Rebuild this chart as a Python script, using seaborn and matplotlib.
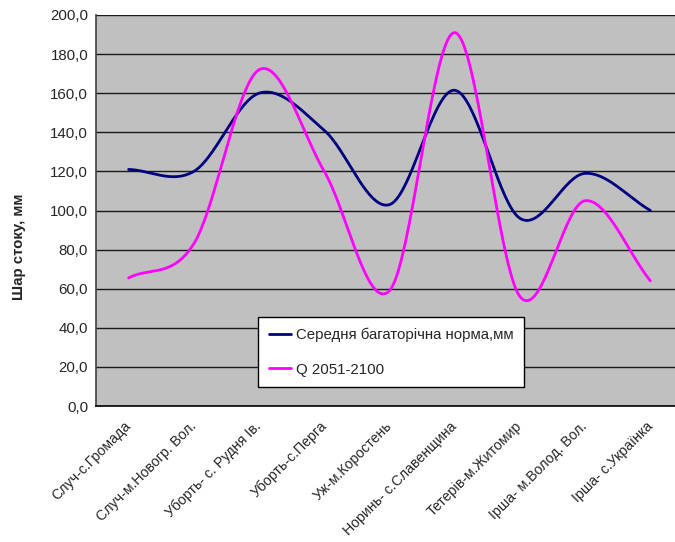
import numpy as np
import pandas as pd
import matplotlib
matplotlib.use("Agg")
import matplotlib.pyplot as plt
import matplotlib.transforms as mtransforms
import seaborn as sns
from matplotlib.lines import Line2D

categories = ['Случ-с.Громада', 'Случ-м.Новогр. Вол.', 'Уборть- с. Рудня Ів.',
              'Уборть-с.Перга', 'Уж-м.Коростень', 'Норинь- с.Славенщина',
              'Тетерів-м.Житомир', 'Ірша- м.Волод. Вол.', 'Ірша- с.Українка']
norm_values = [121, 120, 160, 141, 103, 161.5, 96, 119, 100]
q_values = [65.5, 83, 172, 120, 59, 191, 56, 105, 64]
series_names = ['Середня багаторічна норма,мм', 'Q 2051-2100']
y_ticks = [0, 20, 40, 60, 80, 100, 120, 140, 160, 180, 200]
y_tick_labels = ['0,0', '20,0', '40,0', '60,0', '80,0', '100,0', '120,0',
                 '140,0', '160,0', '180,0', '200,0']
y_label = 'Шар стоку, мм'
colors = ['#000080', '#FF00FF']


def smooth(values, n=40):
    """Excel-style smoothed line (Catmull-Rom Bezier through the points)."""
    p = np.asarray(values, dtype=float)
    x = np.arange(len(p), dtype=float)
    P = np.column_stack([x, p])
    ext = np.vstack([2 * P[0] - P[1], P, 2 * P[-1] - P[-2]])
    xs, ys = [], []
    t = np.linspace(0, 1, n)[:, None]
    for i in range(len(P) - 1):
        p0, p1, p2, p3 = ext[i], ext[i + 1], ext[i + 2], ext[i + 3]
        b0 = p1
        b1 = p1 + (p2 - p0) / 6
        b2 = p2 - (p3 - p1) / 6
        b3 = p2
        pts = ((1 - t) ** 3) * b0 + 3 * ((1 - t) ** 2) * t * b1 + 3 * (1 - t) * t ** 2 * b2 + t ** 3 * b3
        if i > 0:
            pts = pts[1:]
        xs.extend(pts[:, 0])
        ys.extend(pts[:, 1])
    return np.array(xs), np.array(ys)


frames = []
for name, vals in zip(series_names, [norm_values, q_values]):
    sx, sy = smooth(vals)
    frames.append(pd.DataFrame({'x': sx, 'y': sy, 'series': name}))
df = pd.concat(frames, ignore_index=True)

sns.set_style("white")
plt.rcParams['font.family'] = ['Liberation Sans', 'DejaVu Sans']
FS = 10.8
FS_X = 10.2

W, H = 675, 542
fig = plt.figure(figsize=(W / 100, H / 100), dpi=100)
left, right, top, bottom = 96, 683, 15, 406
ax = fig.add_axes([left / W, 1 - bottom / H, (right - left) / W, (bottom - top) / H])
ax.set_facecolor('#C0C0C0')

sns.lineplot(data=df, x='x', y='y', hue='series', palette=colors,
             estimator=None, sort=False, linewidth=2.0, ax=ax, legend=False)

ax.set_xlim(-0.5, len(categories) - 0.5)
ax.set_ylim(0, 200)
ax.set_yticks(y_ticks)
ax.set_yticklabels(y_tick_labels, fontsize=FS)
ax.yaxis.grid(True, color='#1a1a1a', linewidth=1.0)
ax.set_axisbelow(True)

ax.set_xticks(np.arange(len(categories)))
ax.set_xticklabels(categories, rotation=45, ha='right', va='center',
                   rotation_mode='anchor', fontsize=FS_X)
offset = mtransforms.ScaledTranslation(-6 / 100, 0, fig.dpi_scale_trans)
for lab in ax.get_xticklabels():
    lab.set_transform(lab.get_transform() + offset)
ax.set_xticks(np.arange(len(categories) + 1) - 0.5, minor=True)
ax.tick_params(axis='x', which='major', length=0, pad=13)
ax.tick_params(axis='x', which='minor', length=3.6, width=1, color='black', direction='out')
ax.tick_params(axis='y', which='major', length=3.6, width=1, color='black', direction='out', pad=2)
ax.set_xlabel('')
ax.set_ylabel(y_label, fontsize=FS, fontweight='bold')
ax.yaxis.set_label_coords(-0.119, 0.407)

for s in ['top', 'right']:
    ax.spines[s].set_visible(False)
ax.spines['left'].set_color('#404040')
ax.spines['left'].set_linewidth(1.2)
ax.spines['bottom'].set_color('black')
ax.spines['bottom'].set_linewidth(1.2)

handles = [Line2D([0], [0], color=c, lw=2.0) for c in colors]
leg = ax.legend(handles, series_names, loc='lower left',
                bbox_to_anchor=(0.276, 0.048), fontsize=FS, frameon=True,
                fancybox=False, framealpha=1, edgecolor='black',
                labelspacing=1.36, handlelength=1.5, handletextpad=0.3,
                borderpad=0.7, borderaxespad=0)
leg.get_frame().set_linewidth(1.0)
leg.get_frame().set_facecolor('white')

fig.savefig('out.png', dpi=100)
